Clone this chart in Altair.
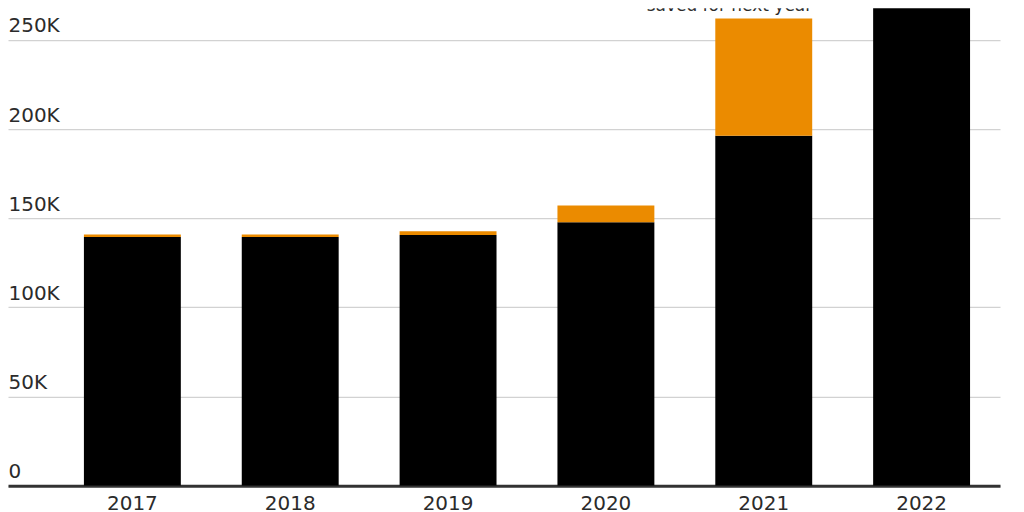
import altair as alt
import pandas as pd

years = ["2017", "2018", "2019", "2020", "2021", "2022"]
spent = [139500, 139500, 140600, 147700, 196200, 310000]
saved = [1300, 1300, 2100, 9400, 65700, 0]
series = ["spent", "saved"]
colors = ["#000000", "#EB8B00"]
y_ticks = [0, 50000, 100000, 150000, 200000, 250000]
note_year = "2021"
note_text = "saved for next year"

rows = []
for y, a, b in zip(years, spent, saved):
    rows.append({"year": y, "kind": "spent", "order": 0, "value": a})
    rows.append({"year": y, "kind": "saved", "order": 1, "value": b})
df = pd.DataFrame(rows)

FONT = "DejaVu Sans"
TXT = "#2b2b2b"

x_scale = alt.Scale(domain=years, paddingInner=0.386, paddingOuter=0.3354, align=0.717)

bars = alt.Chart(df).mark_bar(clip=True).encode(
    x=alt.X("year:N", scale=x_scale, sort=years,
            axis=alt.Axis(title=None, labelAngle=0, ticks=False, domain=True,
                          domainColor="#333333", domainWidth=3,
                          labelPadding=24, labelBaseline="alphabetic",
                          labelFont=FONT, labelFontSize=20, labelColor=TXT)),
    y=alt.Y("value:Q", stack="zero",
            scale=alt.Scale(domain=[0, 267700], nice=False, zero=True),
            axis=alt.Axis(title=None, values=y_ticks, orient="left",
                          labelExpr="datum.value == 0 ? '0' : (datum.value / 1000) + 'K'",
                          labelAlign="left", labelPadding=0, ticks=False, domain=False,
                          labelBaseline="alphabetic", labelOffset=-8, labelFlush=False,
                          labelFont=FONT, labelFontSize=20, labelColor=TXT,
                          grid=True, gridColor="#d2d2d2", gridWidth=1.3)),
    color=alt.Color("kind:N", scale=alt.Scale(domain=series, range=colors), legend=None),
    order=alt.Order("order:Q"),
)

note_df = pd.DataFrame({"year": [note_year], "text": [note_text]})
note = alt.Chart(note_df).mark_text(
    align="right", baseline="alphabetic", font=FONT, fontSize=17, color=TXT, clip=True
).encode(
    x=alt.X("year:N", scale=x_scale, sort=years, bandPosition=1),
    y=alt.value(3),
    text="text:N",
)

chart = alt.layer(bars, note).properties(
    width=993, height=478,
    autosize=alt.AutoSizeParams(type="none"),
    padding={"left": 0, "top": 0, "right": 16, "bottom": 30},
).configure_view(stroke=None)

chart.save("out.html", embed_options={"renderer": "svg", "actions": False})
